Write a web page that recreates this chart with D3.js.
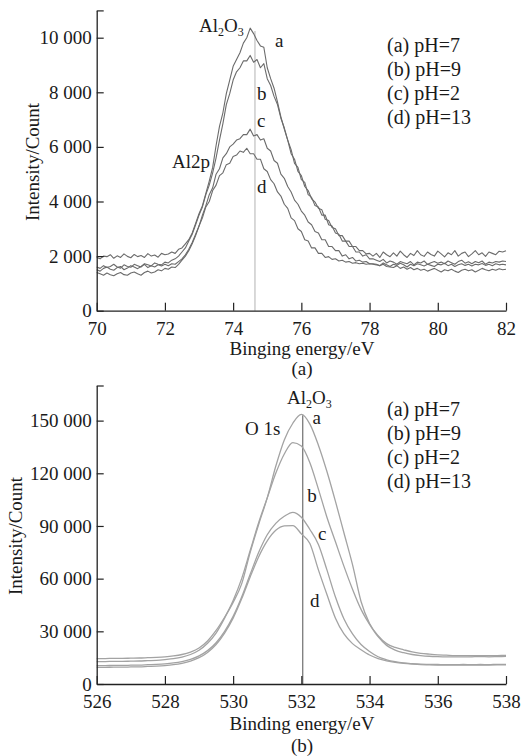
<!DOCTYPE html>
<html>
<head>
<meta charset="utf-8">
<script src="https://cdn.jsdelivr.net/npm/d3@7"></script>
<style>
	body { margin: 0; background: #fff; }
	svg text { font-family: "Liberation Serif", Tinos, "Times New Roman", Times, "DejaVu Serif", serif; fill: #1a1a1a; }
</style>
</head>
<body>
<svg id="chart" width="522" height="756"></svg>
<script>
// ---- panel (a): Al 2p, sampled every 0.1 eV from 70 to 82 ----
const al2pStart = 70, al2pStep = 0.1;
const al2pA = [
	1950,1900,2000,1980,2050,1920,2010,1950,2080,1990,1940,2060,1980,2020,1950,2090,2000,2040,1960,2100,2050,
	2080,2150,2100,2250,2300,2450,2600,2850,3200,3550,
	3850,4300,4750,5250,6050,6750,7250,7950,8450,8950,
	9200,9450,9800,10000,10350,10150,9900,9700,9650,8900,
	8500,8150,7650,7100,6650,6250,5750,5550,5100,4950,4550,4400,4100,3980,3750,3700,3350,3300,3050,3000,
	2750,2750,2550,2550,2350,2350,2200,2200,2080,2100,
	2000,2100,1950,2150,2050,1980,2120,2000,2180,2050,1950,2100,2020,2200,2050,1990,2150,2060,2000,2180,
	2080,1970,2120,2050,2200,2000,2100,2150,1980,2080,2200,2050,2120,1990,2150,2100,2050,2180,2150,2200
];
const al2pB = [
	1600,1550,1650,1580,1620,1700,1600,1560,1680,1620,1590,1700,1650,1600,1720,1680,1640,1750,1700,1680,1780,
	1750,1850,1900,2000,2150,2300,2550,2800,3150,3500,
	3800,4250,4600,5050,5600,6250,6850,7550,7950,8450,
	8750,8900,9150,9150,9350,9100,9200,8900,9050,8500,
	8250,7850,7550,7050,6700,6250,5900,5400,5250,4800,4700,4250,4150,3850,3800,3500,3500,3150,3100,2850,
	2800,2550,2550,2350,2350,2150,2150,2000,2050,1900,
	1900,1850,1800,1880,1750,1820,1780,1700,1800,1760,1720,1800,1680,1780,1750,1820,1700,1760,1800,1740,
	1780,1720,1820,1760,1700,1800,1850,1740,1790,1720,1800,1760,1820,1700,1780,1750,1800,1780,1820,1800
];
const al2pC = [
	1500,1450,1550,1600,1520,1480,1580,1620,1500,1560,1650,1600,1540,1620,1700,1580,1650,1600,1680,1640,1700,
	1650,1720,1700,1800,1900,2050,2250,2500,2800,3100,
	3500,3850,4250,4500,5000,5200,5600,5750,6000,6100,
	6250,6300,6450,6450,6650,6400,6450,6250,6300,5950,
	5850,5500,5400,5000,4850,4550,4350,4050,3900,3650,3500,3250,3150,2900,2850,2600,2600,2350,2350,2200,
	2200,2000,2050,1900,1950,1820,1850,1780,1800,1720,
	1720,1700,1650,1750,1680,1620,1700,1660,1740,1680,1600,1700,1650,1720,1680,1640,1700,1660,1620,1700,
	1680,1740,1650,1700,1620,1680,1720,1660,1700,1640,1700,1680,1730,1660,1700,1650,1720,1680,1700,1680
];
const al2pD = [
	1400,1350,1300,1380,1320,1280,1350,1400,1320,1300,1380,1420,1350,1300,1400,1450,1380,1420,1500,1460,1550,
	1520,1600,1580,1700,1850,2000,2200,2450,2750,3100,
	3400,3800,4000,4400,4600,4950,5050,5350,5400,5650,
	5700,5850,5800,5950,5750,5750,5550,5550,5200,5100,
	4800,4650,4350,4200,3900,3750,3400,3300,3000,2900,2600,2550,2300,2300,2100,2100,1950,1980,1880,1900,
	1820,1850,1780,1800,1740,1760,1720,1740,1700,1720,
	1700,1680,1650,1700,1620,1600,1580,1650,1550,1600,1520,1580,1500,1550,1480,1520,1450,1500,1550,1480,
	1420,1500,1460,1520,1450,1400,1480,1520,1460,1500,1420,1480,1550,1500,1460,1520,1480,1540,1500,1520
];
const al2pTicksX = [70, 72, 74, 76, 78, 80, 82];
const al2pTicksY = [0, 2000, 4000, 6000, 8000, 10000, 11000];
const al2pPeak = 74.64;

// ---- panel (b): O 1s, sampled every 0.25 eV from 526 to 538 ----
const o1sStart = 526, o1sStep = 0.25;
const o1sA = [
	14500,14500,14600,14600,14700,14800,15000,15200,15500,16000,
	16800,18200,20500,24500,30500,38000,46500,57000,75000,91000,
	106000,124000,139000,148500,153500,148000,136000,121000,104000,86000,
	68000,47000,34500,27500,23000,20800,19500,18300,17500,17000,
	16600,16400,16200,16200,16100,16200,16100,16200,16300
];
const o1sB = [
	12800,12800,12900,12900,13000,13100,13300,13500,13900,14400,
	15300,16800,19200,23200,29000,37500,47500,60000,76000,92000,
	106000,120000,131000,137500,135500,126000,111000,95000,81000,67000,
	54000,42500,34000,27000,22000,19300,17800,16800,16200,15800,
	15600,15500,15500,15400,15500,15600,15500,15600,15700
];
const o1sC = [
	10500,10500,10600,10600,10700,10800,11000,11200,11500,12000,
	12800,14000,16000,19000,23500,30000,38500,49500,62500,75000,
	85000,91500,95500,97800,95000,88000,79500,65000,49500,37000,
	28500,22500,18500,15500,13800,12700,12000,11600,11300,11200,
	11100,11000,11000,11100,11000,11100,11000,11200,11200
];
const o1sD = [
	9500,9500,9600,9600,9700,9800,10000,10200,10500,11000,
	11800,13000,15000,18000,22500,29000,37500,48500,61000,72500,
	81500,87500,90000,90200,85500,80000,65000,51000,37500,28500,
	23000,19500,16500,14500,13200,12300,11700,11300,11000,10900,
	10800,10700,10700,10800,10700,10800,10800,10900,10900
];
const o1sTicksX = [526, 528, 530, 532, 534, 536, 538];
const o1sTicksY = [0, 30000, 60000, 90000, 120000, 150000, 170000];
const o1sPeak = 532.04;

const legendLabels = ["(a) pH=7", "(b) pH=9", "(c) pH=2", "(d) pH=13"];

const svg = d3.select("#chart");
const fmt = d3.formatLocale({ decimal: ".", thousands: " ", grouping: [3], currency: ["", ""] }).format(",");

function toPoints(values, start, step) {
	return values.map((v, i) => [start + i * step, v]);
}

function drawPanel(cfg) {
	const g = svg.append("g");
	const x = d3.scaleLinear().domain(cfg.xDomain).range([96.7, 506]);
	const y = d3.scaleLinear().domain(cfg.yDomain).range(cfg.yRange);

	// reference line at the Al2O3 position
	g.append("line")
		.attr("x1", x(cfg.peak)).attr("x2", x(cfg.peak))
		.attr("y1", y(cfg.peakTop)).attr("y2", y(0))
		.attr("stroke", cfg.peakColor)
		.attr("stroke-width", 1.3);

	const line = d3.line()
		.x((d) => x(d[0]))
		.y((d) => y(d[1]))
		.curve(cfg.curve);

	g.append("g")
		.selectAll("path")
		.data(cfg.series)
		.join("path")
		.attr("d", (d) => line(toPoints(d, cfg.start, cfg.step)))
		.attr("fill", "none")
		.attr("stroke", cfg.lineColor)
		.attr("stroke-width", cfg.lineWidth)
		.attr("stroke-linejoin", "round");

	const yAxis = g.append("g")
		.attr("transform", "translate(96.7,0)")
		.call(
			d3.axisLeft(y)
				.tickValues(cfg.yTicks)
				.tickSize(-7)
				.tickSizeOuter(0)
				.tickPadding(5)
				.tickFormat((d) => (d === cfg.yDomain[1] ? "" : fmt(d)))
		);

	const xAxis = g.append("g")
		.attr("transform", `translate(0,${cfg.yRange[0]})`)
		.call(
			d3.axisBottom(x)
				.tickValues(cfg.xTicks)
				.tickSize(-8)
				.tickSizeOuter(0)
				.tickPadding(11)
				.tickFormat((d) => d)
		);

	[xAxis, yAxis].forEach((ax) => {
		ax.attr("font-family", null).attr("font-size", null);
		ax.select(".domain").attr("stroke", "#222").attr("stroke-width", 1.3);
		ax.selectAll(".tick line").attr("stroke", "#222").attr("stroke-width", 1.2);
		ax.selectAll(".tick text")
			.attr("fill", "#1a1a1a")
			.style("font-size", "19px");
	});

	// axis titles
	g.append("text")
		.attr("transform", `translate(${cfg.yTitleX},${cfg.yTitleY}) rotate(-90)`)
		.attr("text-anchor", "middle")
		.style("font-size", "19px")
		.text("Intensity/Count");

	g.append("text")
		.attr("x", 302)
		.attr("y", cfg.xTitleY)
		.attr("text-anchor", "middle")
		.style("font-size", "19px")
		.text(cfg.xTitle);

	g.append("text")
		.attr("x", 302)
		.attr("y", cfg.capY)
		.attr("text-anchor", "middle")
		.style("font-size", "19px")
		.text(cfg.caption);

	// legend
	g.append("g")
		.selectAll("text")
		.data(legendLabels)
		.join("text")
		.attr("x", 387)
		.attr("y", (d, i) => cfg.legendY + i * 24)
		.style("font-size", "20px")
		.text((d) => d);

	// curve letters and peak names
	g.append("g")
		.selectAll("text")
		.data(cfg.notes)
		.join("text")
		.attr("x", (d) => x(d.e))
		.attr("y", (d) => y(d.v))
		.style("font-size", "19px")
		.text((d) => d.t);

	const oxide = g.append("text")
		.attr("x", x(cfg.oxide[0]))
		.attr("y", y(cfg.oxide[1]))
		.style("font-size", "19px");
	oxide.append("tspan").text("Al");
	oxide.append("tspan").attr("dy", 4).style("font-size", "12px").text("2");
	oxide.append("tspan").attr("dy", -4).text("O");
	oxide.append("tspan").attr("dy", 4).style("font-size", "12px").text("3");
}

drawPanel({
	xDomain: [70, 82],
	yDomain: [0, 11000],
	yRange: [310.7, 10.4],
	start: al2pStart,
	step: al2pStep,
	series: [al2pA, al2pB, al2pC, al2pD],
	curve: d3.curveLinear,
	lineColor: "#6b6b6b",
	lineWidth: 1.1,
	peak: al2pPeak,
	peakTop: 10250,
	peakColor: "#c4c4c4",
	xTicks: al2pTicksX,
	yTicks: al2pTicksY,
	xTitle: "Binging energy/eV",
	xTitleY: 355,
	caption: "(a)",
	capY: 375,
	yTitleX: 39,
	yTitleY: 162,
	legendY: 52,
	oxide: [73.0, 10200],
	notes: [
		{ t: "a", e: 75.23, v: 9650 },
		{ t: "b", e: 74.7, v: 7720 },
		{ t: "c", e: 74.7, v: 6730 },
		{ t: "d", e: 74.7, v: 4310 },
		{ t: "Al2p", e: 72.21, v: 5230 }
	]
});

drawPanel({
	xDomain: [526, 538],
	yDomain: [0, 170000],
	yRange: [684, 385.5],
	start: o1sStart,
	step: o1sStep,
	series: [o1sA, o1sB, o1sC, o1sD],
	curve: d3.curveMonotoneX,
	lineColor: "#a3a3a3",
	lineWidth: 1.3,
	peak: o1sPeak,
	peakTop: 153000,
	peakColor: "#7a7a7a",
	xTicks: o1sTicksX,
	yTicks: o1sTicksY,
	xTitle: "Binding energy/eV",
	xTitleY: 730,
	caption: "(b)",
	capY: 752,
	yTitleX: 22,
	yTitleY: 536,
	legendY: 416,
	oxide: [531.58, 159500],
	notes: [
		{ t: "a", e: 532.33, v: 147800 },
		{ t: "O 1s", e: 530.35, v: 141800 },
		{ t: "b", e: 532.17, v: 103600 },
		{ t: "c", e: 532.49, v: 82000 },
		{ t: "d", e: 532.25, v: 43900 }
	]
});
</script>
</body>
</html>
